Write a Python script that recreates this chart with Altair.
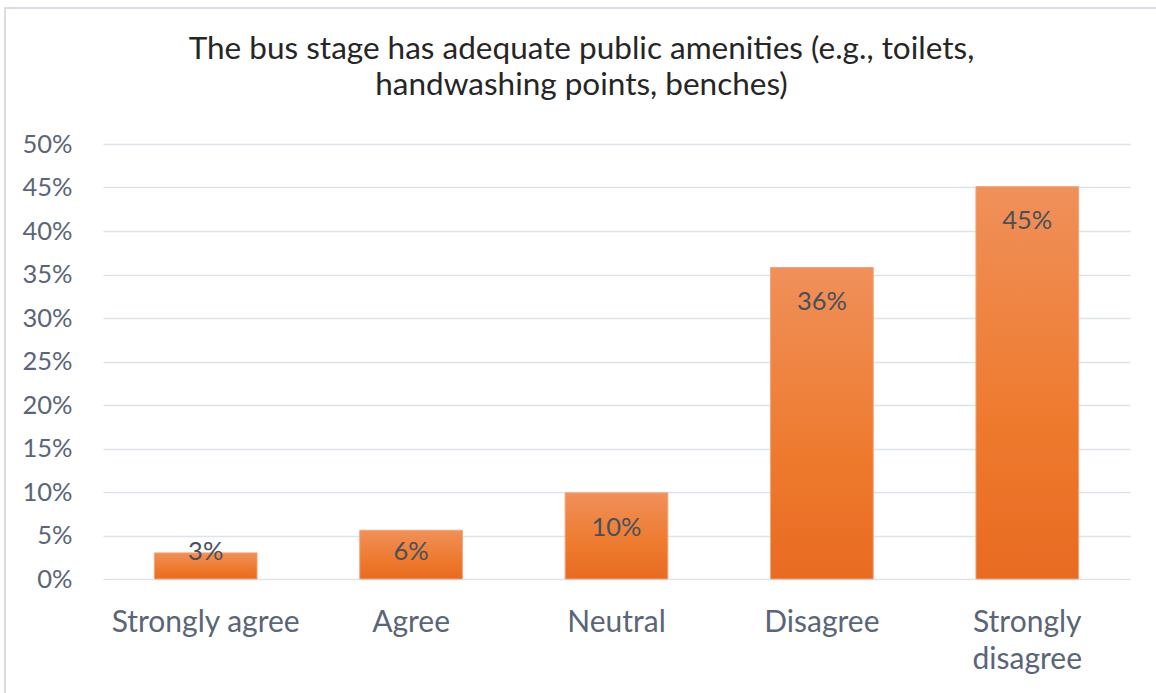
import altair as alt
import pandas as pd

categories = ["Strongly agree", "Agree", "Neutral", "Disagree", "Strongly disagree"]
values = [0.030, 0.056, 0.099, 0.358, 0.451]
title_lines = ["The bus stage has adequate public amenities (e.g., toilets,",
               "handwashing points, benches)"]

df = pd.DataFrame({"cat": categories, "val": values})

FONT = "Lato"
TXT = "#5a6577"

grad = alt.LinearGradient(
    gradient="linear",
    stops=[alt.GradientStop(color="#F0905A", offset=0),
           alt.GradientStop(color="#EE7A2E", offset=0.6),
           alt.GradientStop(color="#E86B22", offset=1)],
    x1=0, x2=0, y1=0, y2=1,
)

x = alt.X("cat:N", sort=categories, title=None,
          scale=alt.Scale(paddingInner=0.5, paddingOuter=0.25),
          axis=alt.Axis(labelAngle=0, labelFontSize=30, labelFont=FONT, labelColor=TXT,
                        labelPadding=28, domain=False, ticks=False, grid=False,
                        labelBaseline="top", labelLineHeight=37, labelLimit=400,
                        labelExpr="datum.label == 'Strongly disagree' ? ['Strongly', 'disagree'] : datum.label"))
y = alt.Y("val:Q", title=None,
          scale=alt.Scale(domain=[0, 0.5]),
          axis=alt.Axis(format=".0%", values=[i / 20 for i in range(11)], labelFontSize=25.5,
                        labelFont=FONT, labelColor=TXT, labelPadding=31, domain=False,
                        ticks=False, gridColor="#DCE3EC", gridWidth=1.6))

bars = alt.Chart(df).mark_bar(color=grad, stroke="#F4A477", strokeWidth=1).encode(x=x, y=y)

labels = alt.Chart(df).transform_calculate(
    ly="max(datum.val - 0.04, 0.031)"
).mark_text(fontSize=25.5, font=FONT, color="#4a4f5a", baseline="middle").encode(
    x=alt.X("cat:N", sort=categories),
    y=alt.Y("ly:Q"),
    text=alt.Text("val:Q", format=".0%"),
)

border = alt.Chart(df).mark_rect(fill=None, stroke="#D9DEE6", strokeWidth=2).encode(
    x=alt.value(-98), x2=alt.value(1200), y=alt.value(-136), y2=alt.value(700)
)

chart = alt.layer(border, bars, labels).properties(
    width=1027, height=435,
    background="white",
    title=alt.TitleParams(title_lines, font=FONT, fontSize=31.5, fontWeight="normal",
                          color="#262626", anchor="middle", frame="group", dx=-35,
                          lineHeight=36, baseline="bottom", offset=-126),
    autosize=alt.AutoSizeParams(type="none"),
    padding={"left": 103, "top": 144, "right": 26, "bottom": 114},
).configure_view(stroke="transparent", strokeWidth=0)

chart.save("out.html", embed_options={"renderer": "svg", "actions": False})
